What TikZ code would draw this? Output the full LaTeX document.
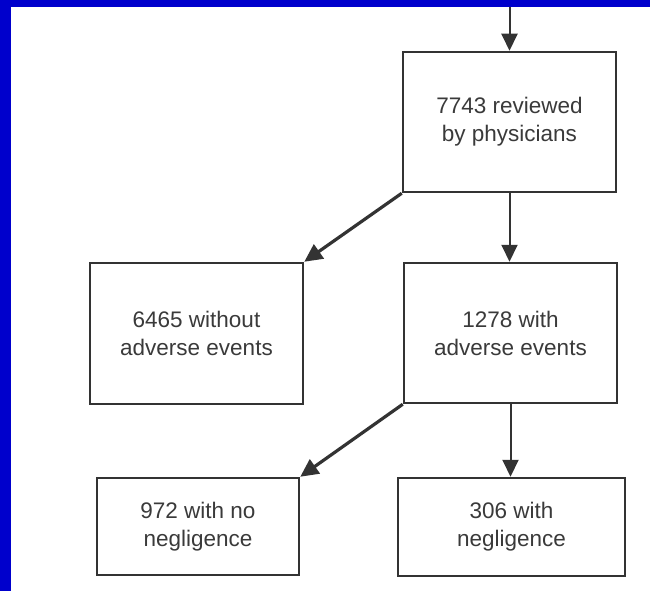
\documentclass[tikz,border=0pt]{standalone}
\usepackage{fontspec}
\setmainfont{Liberation Sans}
\usetikzlibrary{arrows.meta,calc}
\definecolor{frameblue}{HTML}{0000CC}
\definecolor{ink}{HTML}{333333}
\definecolor{txt}{HTML}{3A3A3A}
\tikzset{
  box/.style={draw=ink, line width=2.5pt, fill=white, align=center, inner sep=0pt,
    text=txt, font=\fontsize{22.5pt}{28pt}\selectfont},
  vconn/.style={draw=ink, line width=2pt, -{Triangle[length=17pt,width=16pt]}},
  dconn/.style={draw=ink, line width=3.2pt, -{Triangle[length=18pt,width=17pt]}},
}
\begin{document}
\begin{tikzpicture}[x=1pt,y=-1pt]
\useasboundingbox (0,0) rectangle (650,591);
\fill[white] (0,0) rectangle (650,591);
\fill[frameblue] (0,0) rectangle (650,7);
\fill[frameblue] (0,0) rectangle (11,591);

\node[box, minimum width=213pt, minimum height=140pt] (top) at (509.5,122) {7743 reviewed\\by physicians};
\node[box, minimum width=213pt, minimum height=141pt] (lm) at (196.5,333.5) {6465 without\\adverse events};
\node[box, minimum width=213pt, minimum height=140pt] (rm) at (510.5,333) {1278 with\\adverse events};
\node[box, minimum width=202pt, minimum height=97pt] (bl) at (198,526.5) {972 with no\\negligence};
\node[box, minimum width=227pt, minimum height=98pt] (br) at (511.5,527) {306 with\\negligence};

\coordinate (src) at (509.5,7);
\draw[vconn] (src) -- (top.north);
\draw[vconn] (top.south) -- (top.south |- rm.north);
\draw[dconn] (top.south west) -- (lm.north east);
\draw[dconn] (rm.south west) -- (bl.north east);
\draw[vconn] (rm.south) -- (rm.south |- br.north);
\end{tikzpicture}
\end{document}
